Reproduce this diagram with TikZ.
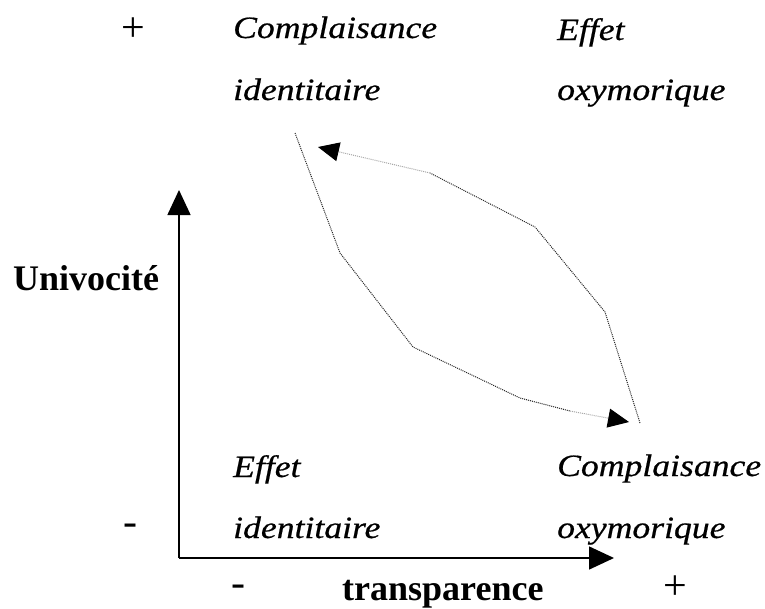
\documentclass[tikz,border=0pt]{standalone}
\usepackage{fontspec}
\setmainfont{Liberation Serif}
\newfontfamily\wideit{Liberation Serif}[FakeStretch=1.15,FakeBold=0.6]
\usetikzlibrary{arrows.meta}
\tikzset{
  lbl/.style={anchor=base west, inner sep=0pt, font=\fontsize{31}{31}\selectfont\wideit\itshape},
  axlbl/.style={anchor=base west, inner sep=0pt, font=\fontsize{36}{36}\selectfont\bfseries},
  sign/.style={inner sep=0pt, font=\fontsize{42}{42}\selectfont},
  axis/.style={line width=1.5pt, -{Triangle[length=25pt,width=23pt]}},
  dotline/.style={line width=1pt, densely dotted, black!85},
  dotlight/.style={line width=1pt, densely dotted, black!35},
  dottip/.style={-{Triangle[length=21pt,width=19pt,color=black]}},
}
\begin{document}
\begin{tikzpicture}[x=1pt,y=-1pt]
\useasboundingbox (0,0) rectangle (765,608);
% labels
\node[lbl] (ci) at (233,38) {Complaisance};
\node[lbl] (ii) at (233,100) {identitaire};
\node[lbl] (eo) at (557,40) {Effet};
\node[lbl] (oo) at (557,100) {oxymorique};
\node[lbl] (ei) at (233,477) {Effet};
\node[lbl] (ib) at (233,538) {identitaire};
\node[lbl] (cb) at (557,476) {Complaisance};
\node[lbl] (ob) at (557,538) {oxymorique};
\node[axlbl] (uv) at (13,290) {Univocité};
\node[axlbl] (tr) at (342,600) {transparence};
\node[sign] (pt) at (133,30) {+};
\node[sign] (mt) at (130,530) {-};
\node[sign] (mb) at (238,591) {-};
\node[sign] (pb) at (675,588) {+};
% axes
\coordinate (o) at (179,558);
\coordinate (yt) at (179,190);
\coordinate (xt) at (614,558);
\draw[axis] (o) -- (yt);
\draw[axis] (o) -- (xt);
% left path (down to bottom-right)
\coordinate (a0) at (295,133);
\coordinate (a1) at (340,253);
\coordinate (a2) at (413,347);
\coordinate (a3) at (520,398);
\coordinate (a4) at (570,411);
\coordinate (a5) at (629,422);
\draw[dotline] (a0) -- (a1) -- (a2) -- (a3) -- (a4);
\draw[dotlight,dottip] (a4) -- (a5);
% right path (up to top-left)
\coordinate (b0) at (640,423);
\coordinate (b1) at (605,312);
\coordinate (b2) at (535,227);
\coordinate (b3) at (430,173);
\coordinate (b4) at (318,147);
\draw[dotline] (b0) -- (b1) -- (b2) -- (b3);
\draw[dotlight,dottip] (b3) -- (b4);
\end{tikzpicture}
\end{document}
